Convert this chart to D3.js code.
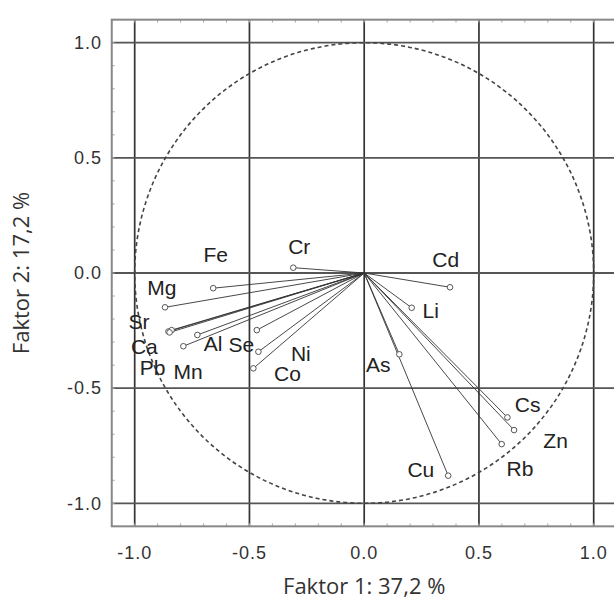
<!DOCTYPE html>
<html>
<head>
<meta charset="utf-8">
<script src="https://cdn.jsdelivr.net/npm/d3@7"></script>
<style>
    body { margin: 0; background: #fff; }
</style>
</head>
<body>
<div id="chart"></div>
<script>
// loadings (factor 1, factor 2)
var elements = ["Cr", "Fe", "Mg", "Sr", "Ca", "Pb", "Al", "Mn", "Se", "Ni", "Co",
                "Cd", "Li", "As", "Cs", "Zn", "Rb", "Cu"];
var factor1 = [-0.309, -0.658, -0.868, -0.853, -0.839, -0.848, -0.727, -0.788, -0.468, -0.461, -0.483,
               0.374, 0.207, 0.153, 0.624, 0.653, 0.599, 0.366];
var factor2 = [0.023, -0.066, -0.149, -0.254, -0.248, -0.258, -0.269, -0.318, -0.248, -0.342, -0.414,
               -0.062, -0.151, -0.353, -0.627, -0.682, -0.743, -0.880];
// where each label sits, in factor units
var labelX = [-0.283, -0.647, -0.882, -0.981, -0.958, -0.922, -0.658, -0.767, -0.535, -0.276, -0.334,
              0.355, 0.290, 0.061, 0.712, 0.834, 0.679, 0.247];
var labelY = [0.114, 0.078, -0.063, -0.211, -0.320, -0.410, -0.305, -0.429, -0.313, -0.352, -0.435,
              0.056, -0.164, -0.400, -0.573, -0.729, -0.851, -0.856];

var majorTicks = [-1.0, -0.5, 0.0, 0.5, 1.0];
var minorTicks = d3.range(-11, 12).map(function (d) { return d / 10; });
var xTitle = "Faktor 1: 37,2 %";
var yTitle = "Faktor 2: 17,2 %";

var width = 614, height = 599;

var x = d3.scaleLinear().domain([-1, 1]).range([134.7, 593.7]);
var y = d3.scaleLinear().domain([-1, 1]).range([503.3, 42.7]);

var svg = d3.select("#chart").append("svg")
    .attr("width", width)
    .attr("height", height);

var plotLeft = x(-1.1), plotRight = x(1.1), plotTop = y(1.1), plotBottom = y(-1.1);

// grid at the major ticks
svg.append("g").selectAll("line.gx")
    .data(majorTicks).enter().append("line")
    .attr("x1", function (d) { return x(d); })
    .attr("x2", function (d) { return x(d); })
    .attr("y1", plotTop).attr("y2", plotBottom)
    .attr("stroke", "#333").attr("stroke-width", 1.7);

svg.append("g").selectAll("line.gy")
    .data(majorTicks).enter().append("line")
    .attr("y1", function (d) { return y(d); })
    .attr("y2", function (d) { return y(d); })
    .attr("x1", plotLeft).attr("x2", plotRight)
    .attr("stroke", "#555").attr("stroke-width", 1.8);

// little inward ticks on the frame
var minor = svg.append("g").attr("stroke", "#aaa").attr("stroke-width", 1);
minor.selectAll("line.tt").data(minorTicks).enter().append("line")
    .attr("x1", function (d) { return x(d); }).attr("x2", function (d) { return x(d); })
    .attr("y1", plotTop).attr("y2", plotTop + 3);
minor.selectAll("line.tb").data(minorTicks).enter().append("line")
    .attr("x1", function (d) { return x(d); }).attr("x2", function (d) { return x(d); })
    .attr("y1", plotBottom).attr("y2", plotBottom - 3);
minor.selectAll("line.tl").data(minorTicks).enter().append("line")
    .attr("y1", function (d) { return y(d); }).attr("y2", function (d) { return y(d); })
    .attr("x1", plotLeft).attr("x2", plotLeft + 3);

// frame
svg.append("rect")
    .attr("x", plotLeft).attr("y", plotTop)
    .attr("width", plotRight - plotLeft).attr("height", plotBottom - plotTop)
    .attr("fill", "none").attr("stroke", "#888").attr("stroke-width", 2);

// unit circle
svg.append("ellipse")
    .attr("cx", x(0)).attr("cy", y(0))
    .attr("rx", x(1) - x(0)).attr("ry", y(0) - y(1))
    .attr("fill", "none")
    .attr("stroke", "#444").attr("stroke-width", 1.6)
    .attr("stroke-dasharray", "4,3");

var points = elements.map(function (e, i) {
    return { name: e, f1: factor1[i], f2: factor2[i], lx: labelX[i], ly: labelY[i] };
});

svg.append("g").selectAll("line.v")
    .data(points).enter().append("line")
    .attr("x1", x(0)).attr("y1", y(0))
    .attr("x2", function (d) { return x(d.f1); })
    .attr("y2", function (d) { return y(d.f2); })
    .attr("stroke", "#333").attr("stroke-width", 0.9);

svg.append("g").selectAll("circle")
    .data(points).enter().append("circle")
    .attr("cx", function (d) { return x(d.f1); })
    .attr("cy", function (d) { return y(d.f2); })
    .attr("r", 2.8)
    .attr("fill", "#fff").attr("stroke", "#555").attr("stroke-width", 1);

svg.append("g").selectAll("text")
    .data(points).enter().append("text")
    .attr("x", function (d) { return x(d.lx); })
    .attr("y", function (d) { return y(d.ly); })
    .attr("dy", "0.35em")
    .attr("text-anchor", "middle")
    .attr("font-family", "Liberation Sans, Arial, sans-serif")
    .attr("font-size", "21px")
    .attr("fill", "#222")
    .text(function (d) { return d.name; });

// tick labels
svg.append("g").selectAll("text")
    .data(majorTicks).enter().append("text")
    .attr("x", function (d) { return x(d); })
    .attr("y", 559)
    .attr("text-anchor", "middle")
    .attr("font-family", "Liberation Sans, Arial, sans-serif")
    .attr("font-size", "18px")
    .attr("letter-spacing", "1px")
    .attr("fill", "#333")
    .text(function (d) { return d.toFixed(1); });

svg.append("g").selectAll("text")
    .data(majorTicks).enter().append("text")
    .attr("x", 102)
    .attr("y", function (d) { return y(d); })
    .attr("dy", "0.35em")
    .attr("text-anchor", "end")
    .attr("font-family", "Liberation Sans, Arial, sans-serif")
    .attr("font-size", "18px")
    .attr("letter-spacing", "1px")
    .attr("fill", "#333")
    .text(function (d) { return d.toFixed(1); });

// axis titles
svg.append("text")
    .attr("x", x(0)).attr("y", 594)
    .attr("text-anchor", "middle")
    .attr("font-family", "Open Sans, sans-serif")
    .attr("font-size", "22px")
    .attr("fill", "#333")
    .text(xTitle);

svg.append("text")
    .attr("transform", "translate(29," + y(0) + ") rotate(-90)")
    .attr("text-anchor", "middle")
    .attr("font-family", "Open Sans, sans-serif")
    .attr("font-size", "22px")
    .attr("fill", "#333")
    .text(yTitle);
</script>
</body>
</html>
